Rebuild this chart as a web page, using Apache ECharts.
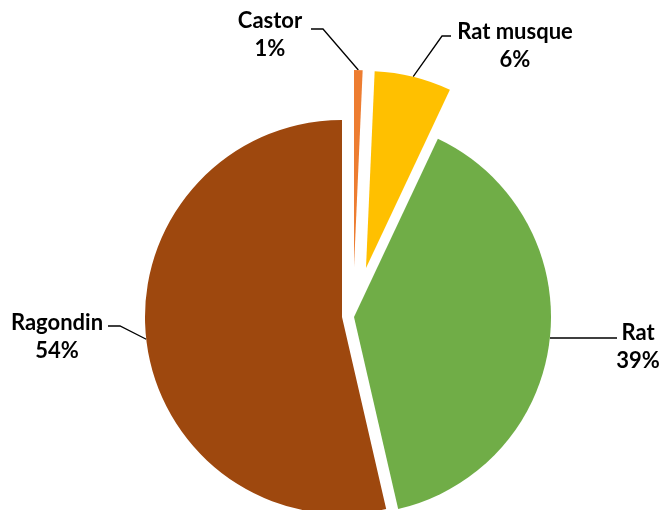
<!DOCTYPE html>
<html>
<head>
<meta charset="utf-8">
<script src="https://cdn.jsdelivr.net/npm/echarts@6/dist/echarts.min.js"></script>
<style>
html,body{margin:0;padding:0;background:#fff;}
#chart{width:662px;height:510px;}
</style>
</head>
<body>
<div id="chart"></div>
<script>
// ---- data ----
const categories = ['Castor', 'Rat musque', 'Rat', 'Ragondin'];
const values = [0.7, 6.3, 39.4, 53.6];
const colors = ['#ED7D31', '#FFC000', '#70AD47', '#9E480E'];

// ---- layout (per-slice explode centres, label placement) ----
const radius = 197;
const centers = [[354, 267], [366, 268], [354, 317], [342, 317]];
const labelPos = [[270, 35], [515, 46], [638, 347], [57, 337]];
const lineBends = [
  [[323, 29], [311, 29]],
  [[442, 36], [451, 36]],
  [[584, 338], [617, 338]],
  [[120, 326], [108, 326]]
];

const total = values.reduce((a, b) => a + b, 0);
function edgePoint(k) {
  let before = 0;
  for (let i = 0; i < k; i++) before += values[i];
  const mid = (before + values[k] / 2) / total * 2 * Math.PI; // clockwise from top
  return [centers[k][0] + radius * Math.sin(mid), centers[k][1] - radius * Math.cos(mid)];
}

const series = categories.map((_, k) => ({
  type: 'pie',
  center: centers[k],
  radius: [0, radius],
  startAngle: 90,
  clockwise: true,
  silent: true,
  avoidLabelOverlap: false,
  percentPrecision: 0,
  emphasis: { disabled: true },
  animation: false,
  data: categories.map((name, i) => ({
    name: name,
    value: values[i],
    itemStyle: { color: i === k ? colors[i] : 'rgba(0,0,0,0)' },
    label: { show: i === k },
    labelLine: { show: i === k }
  })),
  label: {
    position: 'outside',
    formatter: '{b}\n{d}%',
    fontFamily: 'Lato',
    fontWeight: 'bold',
    fontSize: 22,
    lineHeight: 28,
    color: '#000',
    align: 'center'
  },
  labelLine: {
    show: true,
    lineStyle: { color: '#000', width: 1.3 }
  },
  labelLayout: function (params) {
    if (params.dataIndex !== k) return {};
    const p0 = edgePoint(k);
    return {
      x: labelPos[k][0],
      y: labelPos[k][1],
      align: 'center',
      verticalAlign: 'middle',
      labelLinePoints: [p0, lineBends[k][0], lineBends[k][1]]
    };
  }
}));

const chart = echarts.init(document.getElementById('chart'), null, { renderer: 'canvas' });
chart.setOption({
  backgroundColor: '#fff',
  animation: false,
  series: series
});
</script>
</body>
</html>
